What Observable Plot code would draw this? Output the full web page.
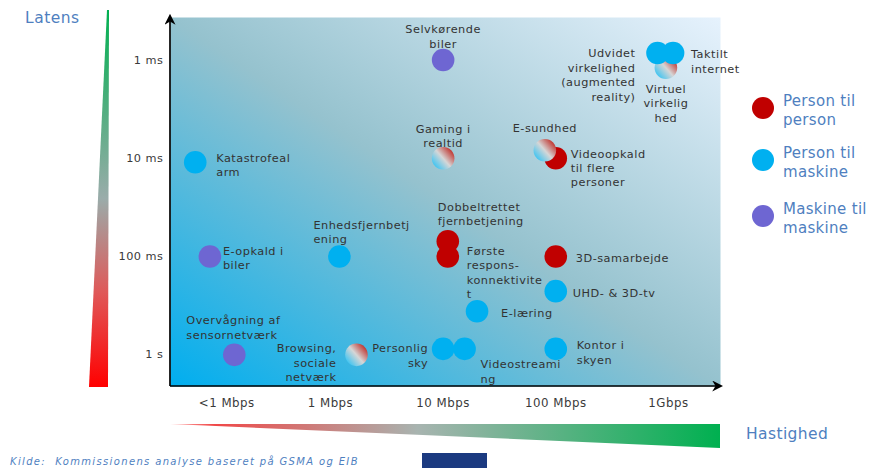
<!DOCTYPE html>
<html><head><meta charset="utf-8">
<script src="https://cdn.jsdelivr.net/npm/d3@7"></script>
<script src="https://cdn.jsdelivr.net/npm/@observablehq/plot@0.6"></script>
<style>
body{margin:0;background:#fff;}
svg{display:block}
</style>
</head><body><div id="chart"></div>
<script>
// ---- data ----
const names = ["Udvidet virkelighed","Taktilt internet","Virtuel virkelighed","Selvkørende biler",
  "Katastrofealarm","Gaming i realtid","E-sundhed","Videoopkald til flere personer",
  "E-opkald i biler","Enhedsfjernbetjening","Dobbeltrettet fjernbetjening","Første responskonnektivitet",
  "3D-samarbejde","UHD- & 3D-tv","E-læring","Overvågning af sensornetværk",
  "Browsing, sociale netværk","Personlig sky","Videostreaming","Kontor i skyen"];
const labelTexts = ["Udvidet\nvirkelighed\n(augmented\nreality)","Taktilt\ninternet","Virtuel\nvirkelig\nhed","Selvkørende\nbiler",
  "Katastrofeal\narm","Gaming i\nrealtid","E-sundhed","Videoopkald\ntil flere\npersoner",
  "E-opkald i\nbiler","Enhedsfjernbetj\nening","Dobbeltrettet\nfjernbetjening","Første\nrespons-\nkonnektivite\nt",
  "3D-samarbejde","UHD- & 3D-tv","E-læring","Overvågning af\nsensornetværk",
  "Browsing,\nsociale\nnetværk","Personlig\nsky","Videostreami\nng","Kontor i\nskyen"];
const speedMbps = [800, 1100, 950, 10, 0.063, 10, 80, 100, 0.085, 1.2, 11, 11, 100, 100, 20, 0.14, 1.7, 10, 15.5, 100];
const latencyMs = [0.85, 0.85, 1.2, 1, 11, 10, 8.3, 10, 100, 100, 70, 100, 100, 225, 360, 1000, 1000, 870, 870, 870];
const kinds = ["pm","pm","mix","mm","pm","mix","mix","pp","mm","pm","pp","pp","pp","pm","pm","mm","mix","pm","pm","pm"];
const categories = ["Person til\nperson","Person til\nmaskine","Maskine til\nmaskine"];
const categoryKeys = ["pp","pm","mm"];
const xTickValues = [0.12, 1, 10, 100, 1000];
const xTickLabels = ["<1 Mbps","1 Mbps","10 Mbps","100 Mbps","1Gbps"];
const yTickValues = [1, 10, 100, 1000];
const yTickLabels = ["1 ms","10 ms","100 ms","1 s"];
const xDomain = [0.038, 2900];
const yDomain = [0.37, 2100];

// ---- styling / placement (not data) ----
const kindFill = {pp:"#c00000", pm:"#00b0f0", mm:"#6e66d2", mix:"url(#mixgrad)"};
const place = {
  "Udvidet virkelighed":["end",-22,-6],
  "Taktilt internet":["start",18,-5],
  "Virtuel virkelighed":["middle",0,15],
  "Selvkørende biler":["middle",0,-37],
  "Katastrofealarm":["start",21,-11],
  "Gaming i realtid":["middle",0,-36],
  "E-sundhed":["middle",0,-29],
  "Videoopkald til flere personer":["start",15,-11],
  "E-opkald i biler":["start",13,-12],
  "Enhedsfjernbetjening":["start",-26,-38],
  "Dobbeltrettet fjernbetjening":["start",-10,-41],
  "Første responskonnektivitet":["start",19,-12],
  "3D-samarbejde":["start",20,-5],
  "UHD- & 3D-tv":["start",17,-4],
  "E-læring":["start",24,-4],
  "Overvågning af sensornetværk":["start",-48,-41],
  "Browsing, sociale netværk":["end",-20,-13],
  "Personlig sky":["end",-15,-7],
  "Videostreaming":["start",16,9],
  "Kontor i skyen":["start",21,-10]
};
const idx = names.map((_, i) => i);
const back = [2,0,1,7,6];
const order = back.concat(idx.filter(i => !back.includes(i)));

const ns = "http://www.w3.org/2000/svg";
function el(tag, attrs, parent) {
  const e = document.createElementNS(ns, tag);
  for (const k in attrs) e.setAttribute(k, attrs[k]);
  if (parent) parent.appendChild(e);
  return e;
}

function defsMark() {
  const g = el("g", {});
  const defs = el("defs", {}, g);
  const bg = el("linearGradient", {id:"bggrad", x1:"0", y1:"1", x2:"1", y2:"0"}, defs);
  el("stop", {offset:"0", "stop-color":"#00aeef"}, bg);
  el("stop", {offset:"0.5", "stop-color":"#95c2ce"}, bg);
  el("stop", {offset:"1", "stop-color":"#e6f2fd"}, bg);
  const mix = el("linearGradient", {id:"mixgrad", x1:"0.1", y1:"0.85", x2:"0.9", y2:"0.15"}, defs);
  el("stop", {offset:"0", "stop-color":"#3cc4f2"}, mix);
  el("stop", {offset:"0.5", "stop-color":"#d6d6d6"}, mix);
  el("stop", {offset:"1", "stop-color":"#c0302a"}, mix);
  const vg = el("linearGradient", {id:"vwedge", x1:"0", y1:"0", x2:"0", y2:"1"}, defs);
  el("stop", {offset:"0", "stop-color":"#00b050"}, vg);
  el("stop", {offset:"0.5", "stop-color":"#9aacaa"}, vg);
  el("stop", {offset:"0.75", "stop-color":"#e05858"}, vg);
  el("stop", {offset:"1", "stop-color":"#ff0000"}, vg);
  const hg = el("linearGradient", {id:"hwedge", x1:"0", y1:"0", x2:"1", y2:"0"}, defs);
  el("stop", {offset:"0", "stop-color":"#ffb0b0"}, hg);
  el("stop", {offset:"0.08", "stop-color":"#f04848"}, hg);
  el("stop", {offset:"0.45", "stop-color":"#a8b4b0"}, hg);
  el("stop", {offset:"1", "stop-color":"#00b050"}, hg);
  const mk = el("marker", {id:"arrowhead", viewBox:"0 0 10 10", refX:"8", refY:"5", markerWidth:"11", markerHeight:"11", markerUnits:"userSpaceOnUse", orient:"auto"}, defs);
  el("path", {d:"M0,0L10,5L0,10L3,5Z", fill:"#000"}, mk);
  return g;
}

function decoMark(index, scales, values, dim) {
  const g = el("g", {"text-anchor":"start"});
  const L = dim.marginLeft, R = dim.width - dim.marginRight, T = dim.marginTop, B = dim.height - dim.marginBottom;
  el("line", {x1:L, y1:B, x2:L, y2:T - 1, stroke:"#000", "stroke-width":1.7, "marker-end":"url(#arrowhead)"}, g);
  el("line", {x1:L, y1:B, x2:R + 1, y2:B, stroke:"#000", "stroke-width":1.7, "marker-end":"url(#arrowhead)"}, g);
  el("path", {d:`M${L-63},${T-7}L${L-61},${T-7}L${L-62},${B+1}L${L-81},${B+1}Z`, fill:"url(#vwedge)"}, g);
  el("path", {d:`M${L},${B+38}L${R},${B+38}L${R},${B+62}Z`, fill:"url(#hwedge)"}, g);
  const txt = (s, x, y, attrs) => { const t = el("text", Object.assign({x, y, "text-anchor":"start", "letter-spacing":"0"}, attrs), g); t.textContent = s; return t; };
  const blue = "#4f7fbf";
  txt("Latens", 25, 23, {fill:blue, "font-family":"DejaVu Sans, sans-serif", "font-size":15.5, "letter-spacing":"0.5"});
  txt("Hastighed", 746, 439, {fill:blue, "font-family":"DejaVu Sans, sans-serif", "font-size":15.5, "letter-spacing":"0.4"});
  categories.forEach((c, i) => {
    const cy = [108, 160, 216][i];
    el("circle", {cx:R + 43, cy, r:11, fill:kindFill[categoryKeys[i]]}, g);
    const t = el("text", {x:R + 63, y:cy - 2, fill:blue, "font-family":"DejaVu Sans, sans-serif", "font-size":15, "letter-spacing":"0.3", "text-anchor":"start"}, g);
    c.split("\n").forEach((line, j) => {
      const ts = el("tspan", {x:R + 63, dy: j === 0 ? "0" : "1.25em"}, t);
      ts.textContent = line;
    });
  });
  txt("Kilde:  Kommissionens analyse baseret på GSMA og EIB", 10, 465, {fill:"#4f7fbf", "font-family":"DejaVu Sans, sans-serif", "font-style":"italic", "font-size":10, "letter-spacing":"1.35"});
  el("rect", {x:422, y:453, width:65, height:15, fill:"#1b3a80"}, g);
  return g;
}

const labelMarks = idx.map(i => {
  const [anchor, dx, dy] = place[names[i]];
  return Plot.text([i], {
    x: j => speedMbps[j], y: j => latencyMs[j], text: j => labelTexts[j],
    textAnchor: anchor, dx, dy, lineAnchor: "top", lineHeight: 1.28,
    fill: "#333", fontSize: 11.3, fontFamily: "DejaVu Sans, sans-serif"
  });
});

const chart = Plot.plot({
  width: 873, height: 468,
  marginLeft: 170, marginRight: 153, marginTop: 17, marginBottom: 82,
  style: {fontFamily: "DejaVu Sans, sans-serif", background: "transparent", letterSpacing: "0.5px"},
  x: {type: "log", domain: xDomain},
  y: {type: "log", domain: yDomain, reverse: true},
  marks: [
    defsMark,
    Plot.frame({fill: "url(#bggrad)", stroke: "none"}),
    Plot.axisX(xTickValues, {tickSize: 0, tickPadding: 12, tickFormat: d => xTickLabels[xTickValues.indexOf(d)], fontSize: 11.8, fill: "#3a3a3a", label: null}),
    Plot.axisY(yTickValues, {tickSize: 0, tickPadding: 7, tickFormat: d => yTickLabels[yTickValues.indexOf(d)], fontSize: 11.3, fill: "#3a3a3a", label: null}),
    Plot.dot(order, {x: i => speedMbps[i], y: i => latencyMs[i], r: 11.3, fill: i => kindFill[kinds[i]], stroke: "none"}),
    ...labelMarks,
    decoMark
  ]
});
document.getElementById("chart").appendChild(chart);
</script>
</body></html>
